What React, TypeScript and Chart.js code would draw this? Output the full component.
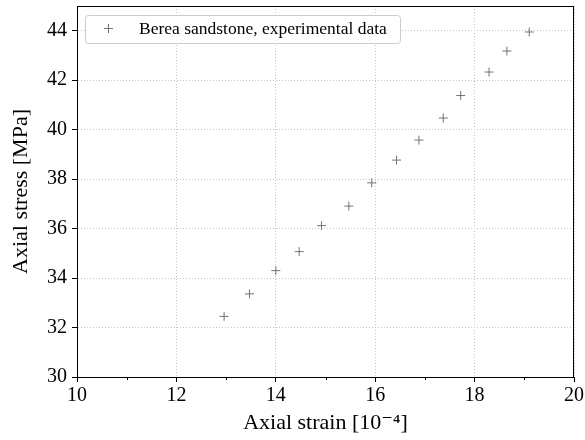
import React, { useEffect, useRef } from "react";
import { Chart, registerables } from "chart.js";

Chart.register(...registerables);

// Axial strain [1e-4] and axial stress [MPa] for the Berea sandstone test
const strain = [12.96, 13.47, 14.0, 14.47, 14.92, 15.47, 15.93, 16.43, 16.88, 17.37, 17.72, 18.29, 18.65, 19.1];
const stress = [32.45, 33.36, 34.3, 35.07, 36.12, 36.91, 37.85, 38.77, 39.58, 40.47, 41.38, 42.33, 43.18, 43.95];
const seriesLabel = "Berea sandstone, experimental data";
const xTitle = "Axial strain [10\u207B\u2074]";
const yTitle = "Axial stress [MPa]";
const xMinorTicks = [11, 13, 15, 17, 19];

const FONT = "'Liberation Serif', 'DejaVu Serif', serif";
const MARKER = "#737373";

const framePlugin = {
  id: "frame",
  afterDraw(chart: any) {
    const { ctx, chartArea: a, scales } = chart;
    ctx.save();
    // full box around the plot
    ctx.strokeStyle = "#000";
    ctx.lineWidth = 1;
    ctx.strokeRect(Math.round(a.left) + 0.5, Math.round(a.top) + 0.5, Math.round(a.right - a.left) - 1, Math.round(a.bottom - a.top));
    // minor ticks on the strain axis
    for (const v of xMinorTicks) {
      const px = Math.round(scales.x.getPixelForValue(v)) + 0.5;
      ctx.beginPath();
      ctx.moveTo(px, a.bottom);
      ctx.lineTo(px, a.bottom + 3);
      ctx.stroke();
    }
    // legend box
    const bx = 85.5, by = 15.5, bw = 315, bh = 28, r = 3;
    ctx.beginPath();
    ctx.moveTo(bx + r, by);
    ctx.lineTo(bx + bw - r, by);
    ctx.arcTo(bx + bw, by, bx + bw, by + r, r);
    ctx.lineTo(bx + bw, by + bh - r);
    ctx.arcTo(bx + bw, by + bh, bx + bw - r, by + bh, r);
    ctx.lineTo(bx + r, by + bh);
    ctx.arcTo(bx, by + bh, bx, by + bh - r, r);
    ctx.lineTo(bx, by + r);
    ctx.arcTo(bx, by, bx + r, by, r);
    ctx.closePath();
    ctx.fillStyle = "rgba(255,255,255,0.85)";
    ctx.fill();
    ctx.strokeStyle = "#cccccc";
    ctx.stroke();
    // legend marker
    ctx.strokeStyle = MARKER;
    ctx.beginPath();
    ctx.moveTo(104, 28.5);
    ctx.lineTo(113, 28.5);
    ctx.moveTo(108.5, 24);
    ctx.lineTo(108.5, 33);
    ctx.stroke();
    // legend text
    ctx.fillStyle = "#000";
    ctx.font = `17.5px ${FONT}`;
    ctx.textBaseline = "middle";
    ctx.textAlign = "left";
    ctx.fillText(chart.data.datasets[0].label, 139, 29.5);
    ctx.restore();
  },
};

export default function App() {
  const ref = useRef<HTMLCanvasElement>(null);

  useEffect(() => {
    document.body.style.margin = "0";
    const chart = new Chart(ref.current!, {
      type: "scatter",
      data: {
        datasets: [
          {
            label: seriesLabel,
            data: strain.map((x, i) => ({ x, y: stress[i] })),
            pointStyle: "cross",
            pointRadius: 4.5,
            pointBorderWidth: 1,
            borderColor: MARKER,
            backgroundColor: MARKER,
          },
        ],
      },
      options: {
        animation: false,
        responsive: false,
        layout: { padding: { top: 6, right: 11, left: 0, bottom: 0 } },
        plugins: { legend: { display: false }, tooltip: { enabled: false } },
        scales: {
          x: {
            type: "linear",
            min: 10,
            max: 20,
            ticks: { stepSize: 2, color: "#000", font: { family: FONT, size: 20 }, padding: 2 },
            grid: { color: "#c4c4c4", tickColor: "#000", tickLength: 5, lineWidth: 1 },
            border: { color: "#000", dash: [1, 2] },
            title: { display: true, text: xTitle, color: "#000", font: { family: FONT, size: 22 }, padding: { top: 3 } },
            afterFit: (s: any) => {
              s.height = 63;
              s.paddingLeft = 0;
              s.paddingRight = 0;
            },
          },
          y: {
            type: "linear",
            min: 30,
            max: 45,
            ticks: { stepSize: 2, color: "#000", font: { family: FONT, size: 20 }, padding: 5 },
            grid: { color: "#c4c4c4", tickColor: "#000", tickLength: 5, lineWidth: 1 },
            border: { color: "#000", dash: [1, 2] },
            title: { display: true, text: yTitle, color: "#000", font: { family: FONT, size: 22 }, padding: { top: 8, bottom: 0 } },
            afterBuildTicks: (s: any) => {
              s.ticks = s.ticks.filter((t: any) => t.value <= 44);
            },
            afterFit: (s: any) => {
              s.width = 77;
              s.paddingTop = 0;
              s.paddingBottom = 0;
            },
          },
        },
      },
      plugins: [framePlugin],
    });
    return () => chart.destroy();
  }, []);

  return <canvas ref={ref} width={585} height={440} style={{ display: "block" }} />;
}
